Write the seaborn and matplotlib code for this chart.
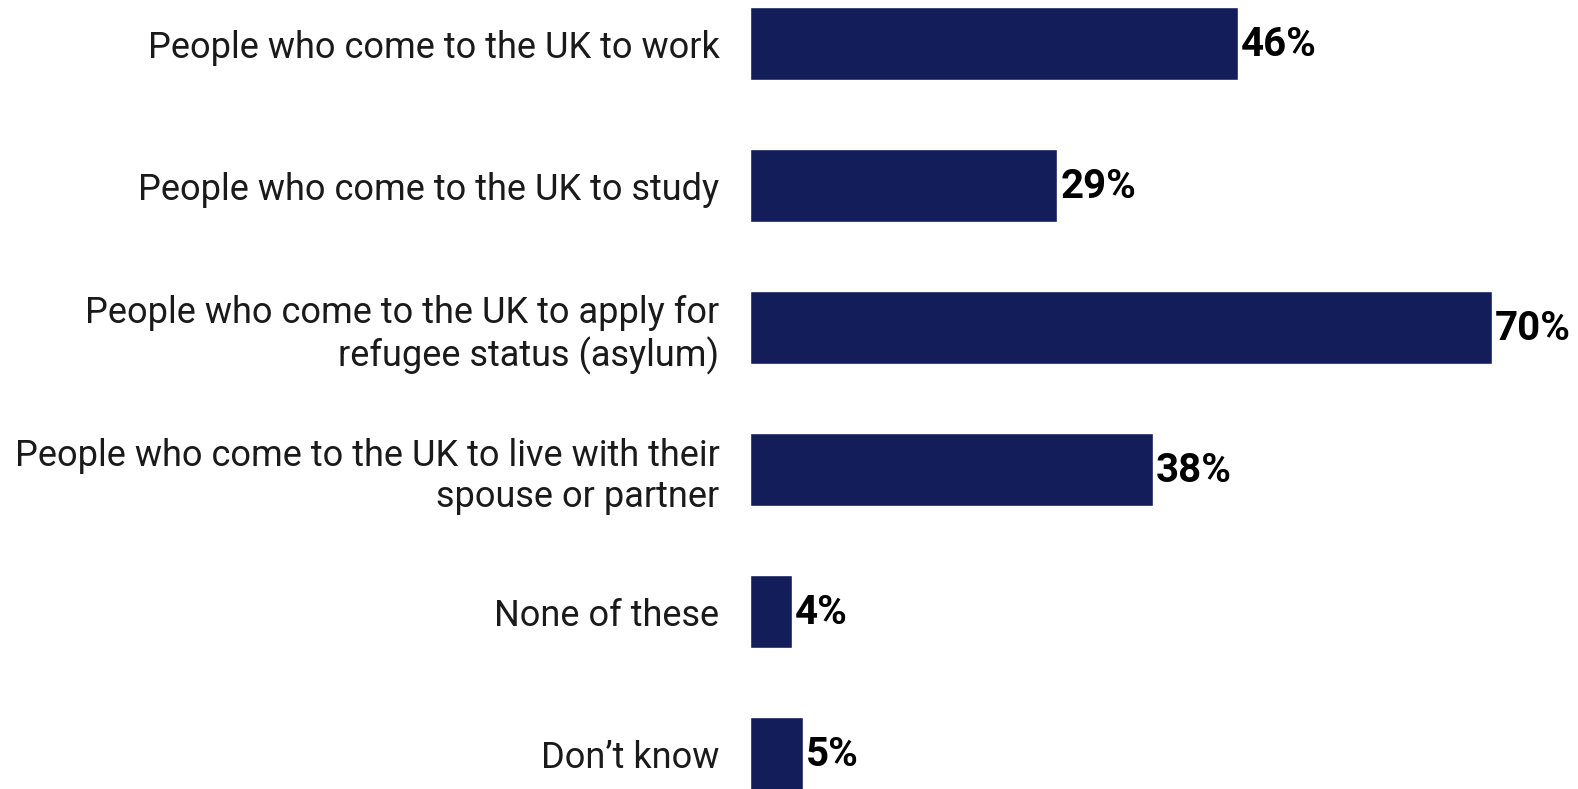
import matplotlib
matplotlib.use("Agg")
import matplotlib.pyplot as plt
import seaborn as sns
import pandas as pd

categories = [
    "People who come to the UK to work",
    "People who come to the UK to study",
    "People who come to the UK to apply for\nrefugee status (asylum)",
    "People who come to the UK to live with their\nspouse or partner",
    "None of these",
    "Don\u2019t know",
]
values = [46, 29, 70, 38, 4, 5]
value_labels = ["46%", "29%", "70%", "38%", "4%", "5%"]

sns.set_style("white")
plt.rcParams["font.family"] = ["Roboto", "DejaVu Sans"]

df = pd.DataFrame({"category": categories, "value": values})

fig = plt.figure(figsize=(15.78, 7.89), dpi=100)
ax = fig.add_axes([750 / 1578, 0.0, 1 - 750 / 1578, 1.0])

sns.barplot(data=df, x="value", y="category", orient="h", color="#131D5A",
            saturation=1, width=0.514, ax=ax)

ax.set_xlim(0, 828 / 10.6)
ax.set_ylim(789 / 142 - 43.5 / 142, -43.5 / 142)

for i, (v, lab) in enumerate(zip(values, value_labels)):
    ax.annotate(lab, xy=(v, i), xytext=(2, -1), textcoords="offset points",
                ha="left", va="center", fontsize=29, fontweight="bold",
                color="black")

ax.set_xlabel("")
ax.set_ylabel("")
ax.set_xticks([])
ax.tick_params(axis="y", length=0, pad=22)
for t in ax.get_yticklabels():
    t.set_fontsize(26)
    t.set_color("#1a1a1a")
    t.set_linespacing(1.2)
for s in ax.spines.values():
    s.set_visible(False)

fig.savefig("out.png", dpi=100)
